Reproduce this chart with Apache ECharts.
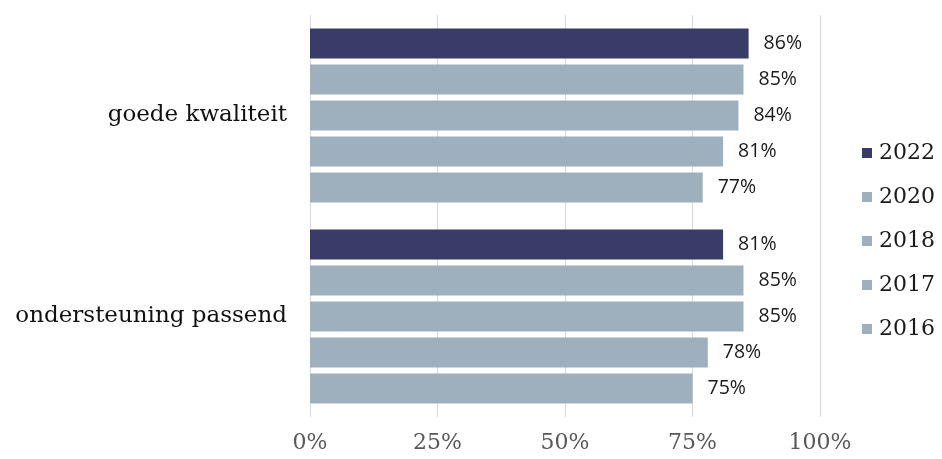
<!DOCTYPE html>
<html><head><meta charset="utf-8">
<script src="https://cdn.jsdelivr.net/npm/echarts@6/dist/echarts.min.js"></script>
<style>html,body{margin:0;padding:0;background:#fff}#c{width:942px;height:459px}</style>
</head><body><div id="c"></div>
<script>
const categories = ['goede kwaliteit', 'ondersteuning passend'];
const seriesNames = ['2022', '2020', '2018', '2017', '2016'];
const values2022 = [86, 81];
const values2020 = [85, 85];
const values2018 = [84, 85];
const values2017 = [81, 78];
const values2016 = [77, 75];
const xTicks = [0, 25, 50, 75, 100];

const allValues = [values2022, values2020, values2018, values2017, values2016];
const colors = ['#393C67', '#9EAFBD', '#9EAFBD', '#9EAFBD', '#9EAFBD'];
const serif = '"DejaVu Serif", "Liberation Serif", serif';
const sans = '"Open Sans", "Liberation Sans", Arial, sans-serif';

const chart = echarts.init(document.getElementById('c'), null, {renderer: 'canvas'});
chart.setOption({
  animation: false,
  grid: {left: 310, right: 122, top: 15, bottom: 42, containLabel: false},
  legend: {
    orient: 'vertical', left: 857, top: 137,
    data: seriesNames,
    itemWidth: 10, itemHeight: 10, itemGap: 22, icon: 'rect',
    textStyle: {fontFamily: serif, fontSize: 22, color: '#1a1a1a', padding: [0,0,0,2]}
  },
  xAxis: {
    type: 'value', min: xTicks[0], max: xTicks[xTicks.length - 1], interval: 25,
    axisLine: {show: false}, axisTick: {show: false},
    splitLine: {lineStyle: {color: '#d9d9d9', width: 1}},
    axisLabel: {formatter: v => v + '%', fontFamily: serif, fontSize: 22, color: '#595959', margin: 15}
  },
  yAxis: {
    type: 'category', data: categories, inverse: true,
    axisLine: {show: false}, axisTick: {show: false},
    axisLabel: {fontFamily: serif, fontSize: 23, color: '#111', margin: 23}
  },
  series: seriesNames.map((name, i) => ({
    name, type: 'bar', data: allValues[i],
    barWidth: 30, barGap: '20%',
    itemStyle: {color: colors[i]},
    label: {show: true, position: 'right', distance: 15, formatter: p => p.value + '%',
      fontFamily: sans, fontSize: 19.5, color: '#1a1a1a'}
  }))
});
</script></body></html>
